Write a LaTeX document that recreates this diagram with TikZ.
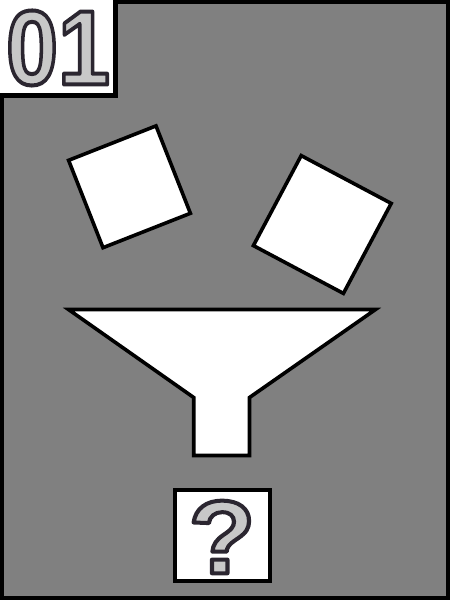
\documentclass[tikz,border=0pt]{standalone}
\usepackage{fontspec}
\newfontfamily\glyphfont{Liberation Sans}
\definecolor{bggray}{RGB}{128,128,128}
\definecolor{glyphfill}{RGB}{200,200,200}
\newcommand{\outlinedtext}[1]{\special{pdf:literal direct 0.17 0.15 0.19 RG 4 w 1 j}\special{pdf:literal direct 2 Tr}#1\special{pdf:literal direct 0 Tr}}
\tikzset{
  framebox/.style={draw=black, line width=4pt},
  card/.style={fill=white, draw=black, line width=3.6pt, line join=miter},
  glyphlabel/.style={inner sep=0pt, text=glyphfill, font=\glyphfont\bfseries}
}
\begin{document}
\begin{tikzpicture}[x=1pt,y=-1pt]
  \useasboundingbox (0,0) rectangle (450,600);
  % background and frame
  \fill[bggray] (0,0) rectangle (450,600);
  \draw[framebox] (2,2) rectangle (448,598);
  % level label box
  \fill[white] (0,0) rectangle (115.5,95.5);
  \draw[black, line width=4.5pt] (115.5,0) -- (115.5,95.5) -- (0,95.5);
  \node[glyphlabel] (level) at (58,48)
    {\scalebox{0.88}[1]{\fontsize{106}{106}\selectfont\outlinedtext{01}}};
  % falling squares
  \draw[card] (68.6,160.3) -- (156,125.9) -- (190.4,213.3) -- (103,247.7) -- cycle;
  \draw[card] (301.2,155.6) -- (391.2,203.4) -- (343.4,293.4) -- (253.4,245.6) -- cycle;
  % funnel
  \draw[card] (68.5,309.5) -- (375.5,309.5) -- (249.5,397.5) -- (249.5,455.5)
              -- (193.7,455.5) -- (193.7,397.5) -- cycle;
  % result box
  \draw[card] (174.75,489.75) rectangle (270.25,581.25);
  \node[glyphlabel] (result) at (222,537)
    {\scalebox{1.05}[1]{\fontsize{104}{104}\selectfont\outlinedtext{?}}};
\end{tikzpicture}
\end{document}
